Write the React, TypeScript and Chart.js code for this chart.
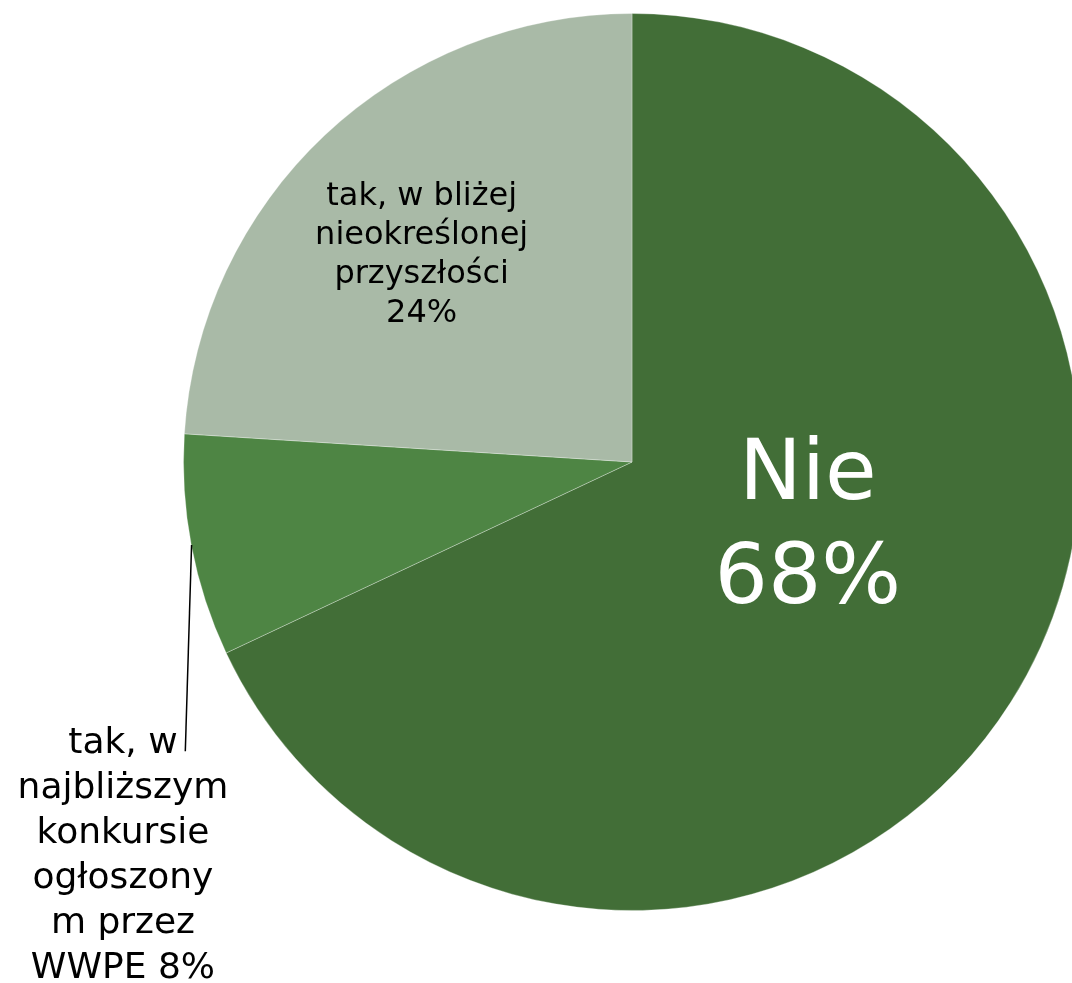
import React, { useEffect, useRef } from "react";
import { Chart, registerables } from "chart.js";

Chart.register(...registerables);

const categories = [
  "Nie",
  "tak, w najbliższym konkursie ogłoszonym przez WWPE",
  "tak, w bliżej nieokreślonej przyszłości",
];
const values = [68, 8, 24];
const colors = ["#426E37", "#4E8544", "#A9BAA7"];

const labelLines: string[][] = [
  ["Nie", "68%"],
  ["tak, w", "najbliższym", "konkursie", "ogłoszony", "m przez", "WWPE 8%"],
  ["tak, w bliżej", "nieokreślonej", "przyszłości", "24%"],
];

const FONT = '"DejaVu Sans", Verdana, sans-serif';

const labelPlugin = {
  id: "pieLabels",
  afterDatasetsDraw(chart: any) {
    const meta = chart.getDatasetMeta(0);
    if (!meta.data.length) return;
    const arc: any = meta.data[0];
    const cx = arc.x;
    const cy = arc.y;
    const r = arc.outerRadius;
    const ctx = chart.ctx;
    ctx.save();
    ctx.textAlign = "center";
    ctx.textBaseline = "alphabetic";

    // Nie 68%
    ctx.fillStyle = "#ffffff";
    ctx.font = `84px ${FONT}`;
    const nx = cx + 0.392 * r;
    const ny0 = cy + 0.082 * r;
    labelLines[0].forEach((t, i) => ctx.fillText(t, nx, ny0 + i * 104));

    // 24%
    ctx.fillStyle = "#000000";
    ctx.font = `32px ${FONT}`;
    const tx = cx - 0.469 * r;
    const ty0 = cy - 0.573 * r;
    labelLines[2].forEach((t, i) => ctx.fillText(t, tx, ty0 + i * 39));

    // 8% outside label
    ctx.font = `36px ${FONT}`;
    const bx = cx - 1.135 * r;
    const by0 = cy + 0.648 * r;
    labelLines[1].forEach((t, i) => ctx.fillText(t, bx, by0 + i * 45));

    // leader line
    ctx.strokeStyle = "#000000";
    ctx.lineWidth = 1.5;
    ctx.beginPath();
    ctx.moveTo(cx - 0.982 * r, cy + 0.185 * r);
    ctx.lineTo(cx - 0.996 * r, cy + 0.645 * r);
    ctx.stroke();
    ctx.restore();
  },
};

export default function App() {
  const ref = useRef<HTMLCanvasElement | null>(null);
  useEffect(() => {
    if (!ref.current) return;
    const chart = new Chart(ref.current, {
      type: "pie",
      data: {
        labels: categories,
        datasets: [
          {
            data: values,
            backgroundColor: colors,
            borderColor: "rgba(255,255,255,0.3)",
            borderWidth: 1,
            hoverOffset: 0,
          },
        ],
      },
      options: {
        responsive: false,
        animation: false,
        events: [],
        layout: { padding: { left: 183, top: 13, right: 19, bottom: 72 } },
        plugins: {
          legend: { display: false },
          tooltip: { enabled: false },
        },
      },
      plugins: [labelPlugin],
    });
    return () => chart.destroy();
  }, []);
  return (
    <div
      style={{
        position: "fixed",
        left: 0,
        top: 0,
        width: 1072,
        height: 983,
        overflow: "hidden",
        background: "#ffffff",
      }}
    >
      <canvas ref={ref} width={1100} height={983} style={{ display: "block" }} />
    </div>
  );
}
